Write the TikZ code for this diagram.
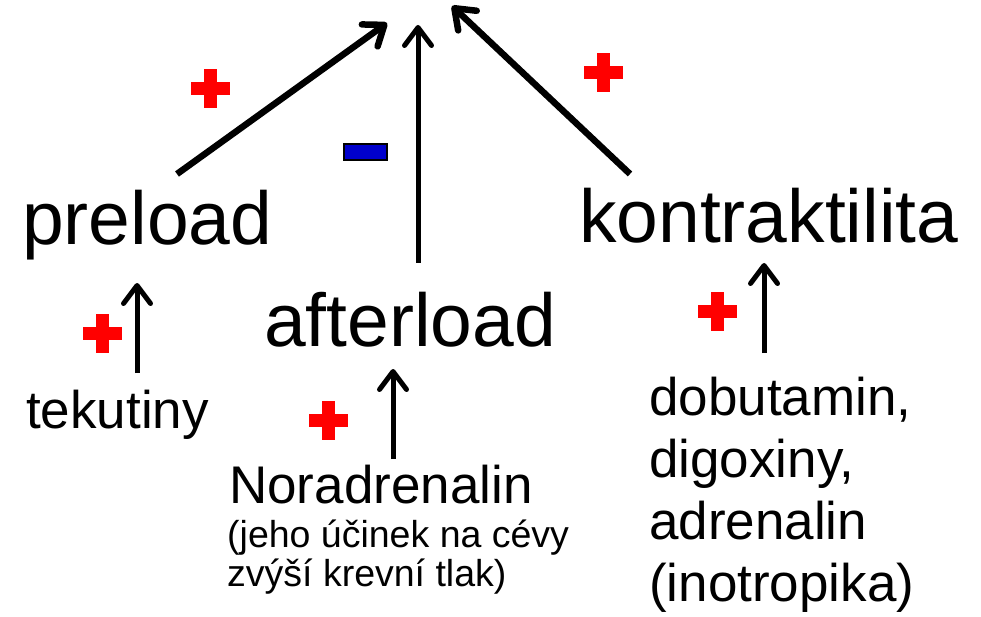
\documentclass[tikz,border=0pt]{standalone}
\usepackage{fontspec}
\setmainfont{Liberation Sans}
\usetikzlibrary{arrows.meta}
\definecolor{plusred}{RGB}{255,0,0}
\definecolor{minusblue}{RGB}{0,0,204}
\tikzset{
  big/.style={inner sep=0pt, anchor=base west, font=\fontsize{75}{80}\selectfont},
  mid/.style={inner sep=0pt, anchor=base west, font=\fontsize{53}{62}\selectfont, align=left},
  small/.style={inner sep=0pt, anchor=base west, font=\fontsize{37.5}{39}\selectfont, align=left},
  conn/.style={line width=#1, -{Straight Barb[round,length=18pt,width=27pt]}},
  conn/.default=5pt,
  plussign/.pic={
    \fill[plusred] (-19.5,-6.5) rectangle (19.5,6.5);
    \fill[plusred] (-6.5,-19.5) rectangle (6.5,19.5);
  }
}
\begin{document}
\begin{tikzpicture}[x=1pt,y=-1pt]
\useasboundingbox (0,0) rectangle (981,617);

% labels
\node[big] (pre) at (22,245) {preload};
\node[big] (aft) at (264,346) {afterload};
\node[big] (kon) at (579,243) {kontraktilita};
\node[mid] (tek) at (26,428) {tekutiny};
\node[mid] (nor) at (229,503) {Noradrenalin};
% multi-line nodes: base = baseline of last line
\node[small] (nor2) at (227,586) {(jeho účinek na cévy\\zvýší krevní tlak)};
\node[mid] (dob) at (649,601) {dobutamin,\\digoxiny,\\adrenalin\\(inotropika)};

% arrow end points
\coordinate (s1) at (177,174);
\coordinate (t1) at (387,23);
\coordinate (s2) at (418,263);
\coordinate (t2) at (418,25);
\coordinate (s3) at (630,174);
\coordinate (t3) at (452,6);
\coordinate (a1) at (137,373);
\coordinate (b1) at (137,283);
\coordinate (a2) at (393,459);
\coordinate (b2) at (393,369);
\coordinate (a3) at (764,353);
\coordinate (b3) at (764,263);

\draw[conn=6.5pt] (s1) -- (t1);
\draw[conn=5pt] (s2) -- (t2);
\draw[conn=6.5pt] (s3) -- (t3);
\draw[conn=5pt] (a1) -- (b1);
\draw[conn=5pt] (a2) -- (b2);
\draw[conn=5pt] (a3) -- (b3);

% signs
\pic (p1) at (210,89) {plussign};
\pic (p2) at (603.5,72.5) {plussign};
\pic (p3) at (102.5,333) {plussign};
\pic (p4) at (328.5,420) {plussign};
\pic (p5) at (717.5,311.5) {plussign};
\draw[fill=minusblue, draw=black, line width=1.2pt] (344,144) rectangle (387,160);
\end{tikzpicture}
\end{document}
